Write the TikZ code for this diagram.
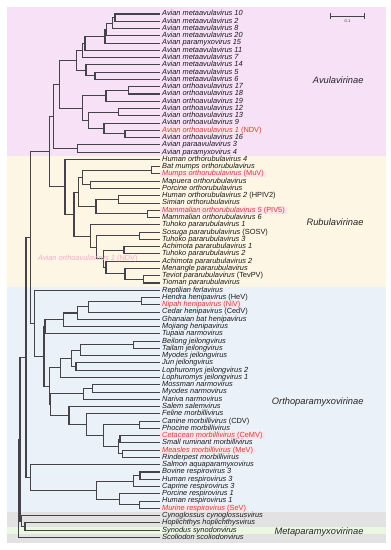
\documentclass[tikz,border=0pt]{standalone}
\usepackage{fontspec}
\setmainfont{Liberation Sans}
\usetikzlibrary{calc}

\definecolor{avubg}{RGB}{246,225,246}
\definecolor{rubbg}{RGB}{253,246,228}
\definecolor{orthbg}{RGB}{235,241,248}
\definecolor{metabg}{RGB}{226,226,226}
\definecolor{synbg}{RGB}{234,248,226}
\definecolor{limbcol}{RGB}{70,66,74}
\definecolor{hotred}{RGB}{214,62,58}
\definecolor{hotfill}{RGB}{252,228,234}
\definecolor{ghostpink}{RGB}{252,170,205}

\tikzset{
  taxon/.style={anchor=west, inner xsep=2pt, inner ysep=0pt, text height=5.3pt, text depth=1.5pt,
    font=\fontsize{7.4}{8}\selectfont\itshape, text=black!90},
  redtaxon/.style={taxon, text=hotred, fill=hotfill},
  limb/.style={draw=limbcol, line width=1.05pt},
  cladename/.style={anchor=east, font=\fontsize{9.3}{11}\selectfont\itshape, text=black!85},
}

% bracket from node #1 (at x = #2) to its two children #3 and #4
\newcommand{\cladenode}[4]{%
  \coordinate (#1tmp) at ($(#3)!0.5!(#4)$);
  \coordinate (#1) at (#2,0 |- #1tmp);
  \draw[limb] (#3) -| (#1) |- (#4);
}

\begin{document}
\begin{tikzpicture}[x=1pt, y=-1pt]
  \useasboundingbox (0,0) rectangle (391,550);

  % Subfamily bands
  \fill[avubg] (7,7) rectangle (386,155.7);
  \fill[rubbg] (7,155.7) rectangle (386,287);
  \fill[orthbg] (7,287) rectangle (386,512);
  \fill[metabg] (7,512) rectangle (386,543);
  \fill[synbg] (7,526.6) rectangle (386,533.9);

  % Tips
  \foreach \name/\kind [count=\i] in {
    Avian metaavulavirus 10/taxon, Avian metaavulavirus 2/taxon, Avian metaavulavirus 8/taxon,
    Avian metaavulavirus 20/taxon, Avian paramyxovirus 15/taxon, Avian metaavulavirus 11/taxon,
    Avian metaavulavirus 7/taxon, Avian metaavulavirus 14/taxon, Avian metaavulavirus 5/taxon,
    Avian metaavulavirus 6/taxon, Avian orthoavulavirus 17/taxon, Avian orthoavulavirus 18/taxon,
    Avian orthoavulavirus 19/taxon, Avian orthoavulavirus 12/taxon, Avian orthoavulavirus 13/taxon,
    Avian orthoavulavirus 9/taxon, Avian orthoavulavirus 1 \textup{(NDV)}/redtaxon,
    Avian orthoavulavirus 16/taxon, Avian paraavulavirus 3/taxon, Avian paramyxovirus 4/taxon,
    Human orthorubulavirus 4/taxon, Bat mumps orthorubulavirus/taxon,
    Mumps orthorubulavirus \textup{(MuV)}/redtaxon, Mapuera orthorubulavirus/taxon,
    Porcine orthorubulavirus/taxon, Human orthorubulavirus 2 \textup{(HPIV2)}/taxon,
    Simian orthorubulavirus/taxon, Mammalian orthorubulavirus 5 \textup{(PIV5)}/redtaxon,
    Mammalian orthorubulavirus 6/taxon, Tuhoko pararubulavirus 1/taxon,
    Sosuga pararubulavirus \textup{(SOSV)}/taxon, Tuhoko pararubulavirus 3/taxon,
    Achimota pararubulavirus 1/taxon, Tuhoko pararubulavirus 2/taxon,
    Achimota pararubulavirus 2/taxon, Menangle pararubulavirus/taxon,
    Teviot pararubulavirus \textup{(TevPV)}/taxon, Tioman pararubulavirus/taxon,
    Reptilian ferlavirus/taxon, Hendra henipavirus \textup{(HeV)}/taxon,
    Nipah henipavirus \textup{(NiV)}/redtaxon, Cedar henipavirus \textup{(CedV)}/taxon,
    Ghanaian bat henipavirus/taxon, Mojiang henipavirus/taxon, Tupaia narmovirus/taxon,
    Beilong jeilongvirus/taxon, Tailam jeilongvirus/taxon, Myodes jeilongvirus/taxon,
    Jun jeilongvirus/taxon, Lophuromys jeilongvirus 2/taxon, Lophuromys jeilongvirus 1/taxon,
    Mossman narmovirus/taxon, Myodes narmovirus/taxon, Nariva narmovirus/taxon,
    Salem salemvirus/taxon, Feline morbillivirus/taxon, Canine morbillivirus \textup{(CDV)}/taxon,
    Phocine morbillivirus/taxon, Cetacean morbillivirus \textup{(CeMV)}/redtaxon,
    Small ruminant morbillivirus/taxon, Measles morbillivirus \textup{(MeV)}/redtaxon,
    Rinderpest morbillivirus/taxon, Salmon aquaparamyxovirus/taxon, Bovine respirovirus 3/taxon,
    Human respirovirus 3/taxon, Caprine respirovirus 3/taxon, Porcine respirovirus 1/taxon,
    Human respirovirus 1/taxon, Murine respirovirus \textup{(SeV)}/redtaxon,
    Cynoglossus cynoglossusvirus/taxon, Hoplichthys hoplichthysvirus/taxon,
    Synodus synodonvirus/taxon, Scoliodon scoliodonvirus/taxon}
    \node[\kind] (l\i) at (160,{14+7.27*(\i-1)}) {\name};

  % Avulavirinae
  \cladenode{m12}{115}{l1.west}{l2.west}
  \cladenode{m3}{112.7}{m12}{l3.west}
  \cladenode{m4}{106.7}{m3}{l4.west}
  \cladenode{m5}{105}{m4}{l5.west}
  \cladenode{m6}{85}{m5}{l6.west}
  \cladenode{m7}{82.7}{m6}{l7.west}
  \cladenode{m910}{95}{l9.west}{l10.west}
  \cladenode{m8}{86}{l8.west}{m910}
  \cladenode{meta}{76.7}{m7}{m8}
  \cladenode{o1112}{128.3}{l11.west}{l12.west}
  \cladenode{o13}{106}{o1112}{l13.west}
  \cladenode{o1415}{118.3}{l14.west}{l15.west}
  \cladenode{o1718}{125}{l17.west}{l18.west}
  \cladenode{o16}{104}{l16.west}{o1718}
  \cladenode{o14}{88.3}{o1415}{o16}
  \cladenode{ortho}{82.7}{o13}{o14}
  \cladenode{mo}{59.3}{meta}{ortho}
  \cladenode{p1920}{77.3}{l19.west}{l20.west}
  \cladenode{avula}{53.3}{mo}{p1920}

  % Rubulavirinae
  \cladenode{r2223}{151.7}{l22.west}{l23.west}
  \cladenode{r2425}{90.7}{l24.west}{l25.west}
  \cladenode{r22}{82.7}{r2223}{r2425}
  \cladenode{r2627}{118.3}{l26.west}{l27.west}
  \cladenode{r2829}{147.3}{l28.west}{l29.west}
  \cladenode{r26}{96}{r2627}{r2829}
  \cladenode{orub}{78.3}{r22}{r26}
  \cladenode{pr3738}{143.3}{l37.west}{l38.west}
  \cladenode{pr36}{125}{l36.west}{pr3738}
  \cladenode{pr35}{106}{l35.west}{pr36}
  \cladenode{pr3334}{124}{l33.west}{l34.west}
  \cladenode{pr33}{103.3}{pr3334}{pr35}
  \cladenode{pr3132}{139.3}{l31.west}{l32.west}
  \cladenode{pr31}{96.7}{pr3132}{pr33}
  \cladenode{prub}{90.7}{l30.west}{pr31}
  \cladenode{rcore}{74}{orub}{prub}
  \cladenode{rubula}{65}{l21.west}{rcore}
  \cladenode{ar}{49.3}{avula}{rubula}

  % Orthoparamyxovirinae
  \cladenode{h4041}{141.7}{l40.west}{l41.west}
  \cladenode{h42}{88.3}{h4041}{l42.west}
  \cladenode{h43}{77.3}{h42}{l43.west}
  \cladenode{h44}{63.3}{h43}{l44.west}
  \cladenode{h45}{45}{h44}{l45.west}
  \cladenode{j4647}{133.3}{l46.west}{l47.west}
  \cladenode{j48}{80.7}{j4647}{l48.west}
  \cladenode{j4950}{76}{l49.west}{l50.west}
  \cladenode{j49}{71.7}{j48}{j4950}
  \cladenode{j51}{60.7}{j49}{l51.west}
  \cladenode{n5253}{92.3}{l52.west}{l53.west}
  \cladenode{n54}{83.3}{n5253}{l54.west}
  \cladenode{k5758}{139.3}{l57.west}{l58.west}
  \cladenode{k5960}{120}{l59.west}{l60.west}
  \cladenode{k6162}{122.7}{l61.west}{l62.west}
  \cladenode{k59}{118.3}{k5960}{k6162}
  \cladenode{k57}{103.3}{k5758}{k59}
  \cladenode{k56}{86.7}{l56.west}{k57}
  \cladenode{k55}{69}{l55.west}{k56}
  \cladenode{nk}{50.3}{n54}{k55}
  \cladenode{jnk}{49.3}{j51}{nk}
  \cladenode{ocore}{44}{h45}{jnk}
  \cladenode{opara}{34.3}{l39.west}{ocore}
  \cladenode{n1}{30.7}{ar}{opara}
  \cladenode{s6465}{140}{l64.west}{l65.west}
  \cladenode{s66}{133.3}{s6465}{l66.west}
  \cladenode{s6869}{139.3}{l68.west}{l69.west}
  \cladenode{s67}{119.3}{l67.west}{s6869}
  \cladenode{resp}{96.7}{s66}{s67}
  \cladenode{sresp}{30.7}{l63.west}{resp}
  \cladenode{n2}{26}{n1}{sresp}

  % Metaparamyxovirinae and root
  \cladenode{mt7172}{25}{l71.west}{l72.west}
  \cladenode{mt70}{21.7}{l70.west}{mt7172}
  \cladenode{r1}{20}{n2}{mt70}
  \cladenode{root}{18.7}{r1}{l73.west}

  % stray label
  \node[taxon, text=ghostpink] (ghost) at (36,259) {Avian orthoavulavirus 1 \textup{(NDV)}};

  % Subfamily names
  \node[cladename] (avuname) at (367,80) {Avulavirinae};
  \node[cladename] (rubname) at (367,222) {Rubulavirinae};
  \node[cladename] (orthname) at (367,402) {Orthoparamyxovirinae};
  \node[cladename] (metaname) at (367,532) {Metaparamyxovirinae};

  % Scale bar
  \coordinate (sb1) at (330,16);
  \coordinate (sb2) at (365,16);
  \draw[limb, line width=0.6pt, |-|] (sb1) -- (sb2);
  \node[font=\fontsize{4}{5}\selectfont, text=black!80] (sblabel) at ($(sb1)!0.5!(sb2)+(0,5)$) {0.1};
\end{tikzpicture}
\end{document}
